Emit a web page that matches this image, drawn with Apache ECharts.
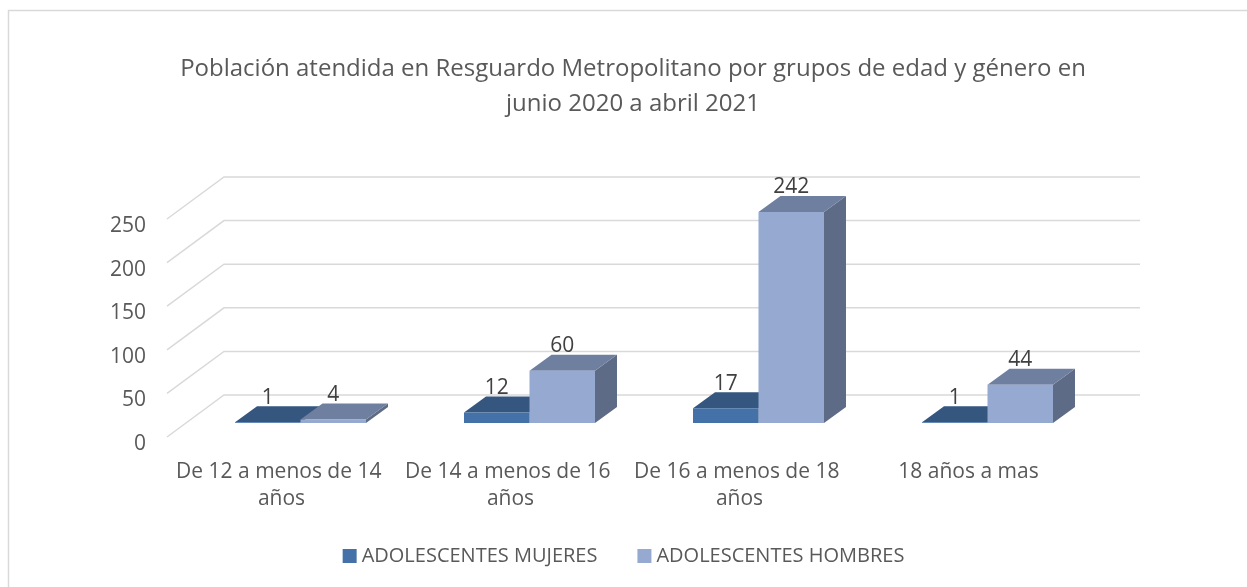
<!DOCTYPE html>
<html>
<head>
<meta charset="utf-8">
<script src="https://cdn.jsdelivr.net/npm/echarts@6/dist/echarts.min.js"></script>
<style>
  html, body { margin: 0; padding: 0; background: #fff; }
  #chart { width: 1247px; height: 587px; }
</style>
</head>
<body>
<div id="chart"></div>
<script>
var categories = ['De 12 a menos de 14 años', 'De 14 a menos de 16 años', 'De 16 a menos de 18 años', '18 años a mas'];
var mujeres = [1, 12, 17, 1];
var hombres = [4, 60, 242, 44];
var yTicks = [0, 50, 100, 150, 200, 250];

var FONT = '"Open Sans", sans-serif';
// fake 3d offsets (px): whole floor depth, bar front offset, bar depth
var WALL = [57, 42], FRONT = [19, 14], DEPTH = [22, 16];

var palette = {
  mujeres: { front: '#4472A8', top: '#34567F', side: '#2C486C' },
  hombres: { front: '#95A9D1', top: '#6F7F9F', side: '#5D6B87' }
};

function barRender(colors, side) {
  return function (params, api) {
    var idx = api.value(0), val = api.value(1);
    var base = api.coord([idx, 0]);
    var top = api.coord([idx, val]);
    var bw = api.size([1, 0])[0] * 0.286;
    var x0 = base[0] + FRONT[0] - (side === 0 ? bw : 0);
    var x1 = x0 + bw;
    var yb = base[1] - FRONT[1];
    var yt = top[1] - FRONT[1];
    var dx = DEPTH[0], dy = DEPTH[1];
    return {
      type: 'group',
      children: [
        { type: 'polygon', shape: { points: [[x1, yt], [x1 + dx, yt - dy], [x1 + dx, yb - dy], [x1, yb]] },
          style: { fill: colors.side } },
        { type: 'polygon', shape: { points: [[x0, yt], [x1, yt], [x1 + dx, yt - dy], [x0 + dx, yt - dy]] },
          style: { fill: colors.top } },
        { type: 'rect', shape: { x: x0, y: yt, width: bw, height: Math.max(yb - yt, 0.8) },
          style: { fill: colors.front } },
        { type: 'text', x: (x0 + x1) / 2, y: yt - dy + 2,
          style: { text: String(val), font: '21px ' + FONT, fill: '#404040', align: 'center', verticalAlign: 'bottom' } }
      ]
    };
  };
}

var chart = echarts.init(document.getElementById('chart'));
chart.setOption({
  animation: false,
  title: {
    text: 'Población atendida en Resguardo Metropolitano por grupos de edad y género en\njunio 2020 a abril 2021',
    left: 628, textAlign: 'center', top: 47,
    textStyle: { fontFamily: FONT, fontSize: 24, fontWeight: 'normal', color: '#595959', lineHeight: 35 }
  },
  legend: {
    data: ['ADOLESCENTES MUJERES', 'ADOLESCENTES HOMBRES'],
    left: 'center', top: 541, icon: 'rect', itemWidth: 14, itemHeight: 14, itemGap: 40,
    textStyle: { fontFamily: FONT, fontSize: 20, color: '#595959' }
  },
  graphic: [{
    type: 'rect', shape: { x: 8.5, y: 10.5, width: 1260, height: 600 }, silent: true,
    style: { fill: 'none', stroke: '#d9d9d9', lineWidth: 1.5 }
  }],
  grid: { left: 167, right: 164, top: 219, bottom: 150 },
  xAxis: {
    type: 'category', data: categories,
    axisLine: { show: false }, axisTick: { show: false },
    axisLabel: { margin: 22, fontFamily: FONT, fontSize: 21, color: '#595959', lineHeight: 27,
      width: 222, overflow: 'break', interval: 0 }
  },
  yAxis: {
    type: 'value', min: 0, max: 250, interval: 50,
    axisLine: { show: false }, axisTick: { show: false }, splitLine: { show: false },
    axisLabel: { margin: 21, fontFamily: FONT, fontSize: 21, color: '#595959',
      verticalAlign: 'top', lineHeight: 14 }
  },
  series: [
    {
      type: 'custom', name: 'wall', silent: true, z: 1,
      data: yTicks.map(function (v) { return [0, v]; }),
      renderItem: function (params, api) {
        var cs = params.coordSys;
        var y = api.coord([0, api.value(1)])[1];
        return {
          type: 'polyline',
          shape: { points: [[cs.x, y], [cs.x + WALL[0], y - WALL[1]], [cs.x + cs.width + WALL[0], y - WALL[1]]] },
          style: { stroke: '#d9d9d9', lineWidth: 1.5, fill: 'none' }
        };
      }
    },
    {
      type: 'custom', name: 'ADOLESCENTES MUJERES', z: 2,
      itemStyle: { color: palette.mujeres.front },
      data: mujeres.map(function (v, i) { return [i, v]; }),
      renderItem: barRender(palette.mujeres, 0)
    },
    {
      type: 'custom', name: 'ADOLESCENTES HOMBRES', z: 3,
      itemStyle: { color: palette.hombres.front },
      data: hombres.map(function (v, i) { return [i, v]; }),
      renderItem: barRender(palette.hombres, 1)
    }
  ]
});
</script>
</body>
</html>
